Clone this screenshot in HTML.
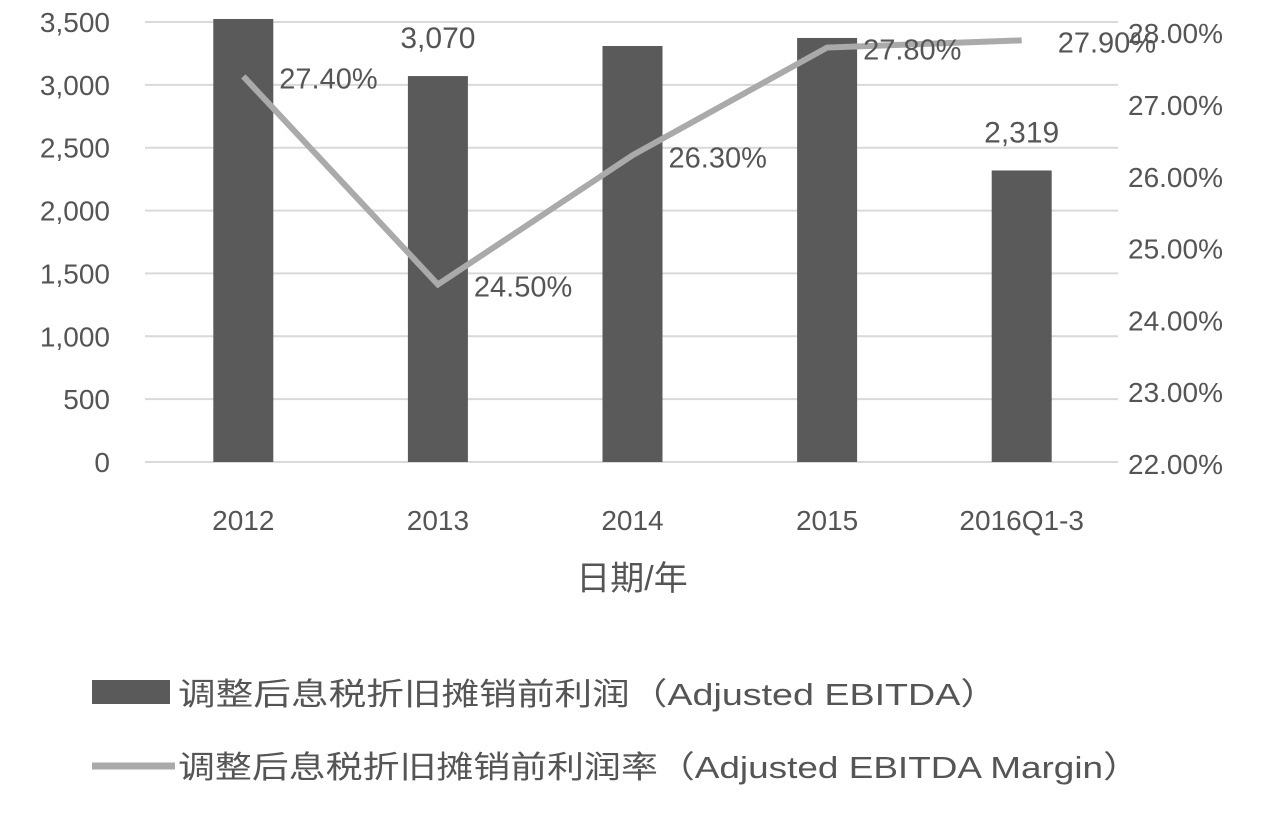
<!DOCTYPE html>
<html><head><meta charset="utf-8"><style>
html,body{margin:0;padding:0;background:#fff;}
svg text{font-family:"Liberation Sans","Noto Sans CJK SC",sans-serif;fill:#555;}
</style></head><body>
<svg id="chart" width="1288" height="823" xmlns="http://www.w3.org/2000/svg">
<g id="grid"></g><g id="bars"></g><g id="line"></g><g id="labels"></g><g id="axes"></g>
<g>
<g>
<rect x="92" y="680" width="78" height="24" fill="#5a5a5a"/>
<text x="178" y="705" font-size="31" textLength="820" lengthAdjust="spacingAndGlyphs">调整后息税折旧摊销前利润（Adjusted EBITDA）</text></g>
<g>
<line x1="92" y1="766" x2="175" y2="766" stroke="#aaa" stroke-width="7"/>
<text x="178" y="778" font-size="31" textLength="962" lengthAdjust="spacingAndGlyphs">调整后息税折旧摊销前利润率（Adjusted EBITDA Margin）</text></g>
</g>
<text x="632" y="590" font-size="34" text-anchor="middle">日期/年</text>
</svg>
<script>
const categories=["2012","2013","2014","2015","2016Q1-3"];
const ebitda=[3524,3070,3309,3373,2319];
const ebitdaLabels=["","3,070","","","2,319"];
const margin=[27.4,24.5,26.3,27.8,27.9];
const marginLabels=["27.40%","24.50%","26.30%","27.80%","27.90%"];
const leftTicks=[0,500,1000,1500,2000,2500,3000,3500];
const rightTicks=[22,23,24,25,26,27,28];
const NS="http://www.w3.org/2000/svg";
const x0=145,x1=1118,step=(x1-x0)/categories.length;
const xc=i=>x0+step*(i+0.5)+1;
const yL=v=>462-v*(440/3500);
const yR=v=>464-(v-22)*71.8;
function mk(tag,attrs,parent,txt){const e=document.createElementNS(NS,tag);for(const k in attrs)e.setAttribute(k,attrs[k]);if(txt!==undefined)e.textContent=txt;document.getElementById(parent).appendChild(e);return e;}
leftTicks.forEach(t=>{
 const g=mk('line',{x1:x0,x2:x1,y1:yL(t),y2:yL(t),stroke:'#d9d9d9','stroke-width':2},'grid');
 
 
 const l=mk('text',{x:110,y:yL(t)+10,'font-size':28,'text-anchor':'end'},'axes',t.toLocaleString('en-US'));
 
 
});
rightTicks.forEach(t=>{
 const l=mk('text',{x:1128,y:yR(t)+10,'font-size':28},'axes',t.toFixed(2)+'%');
 
 
});
categories.forEach((c,i)=>{
 const b=mk('rect',{x:xc(i)-30,y:yL(ebitda[i]),width:60,height:462-yL(ebitda[i]),fill:'#5a5a5a'},'bars');
 
 
 const l=mk('text',{x:xc(i),y:530,'font-size':28,'text-anchor':'middle'},'axes',c);
 
 
 if(ebitdaLabels[i]){
  const v=mk('text',{x:xc(i),y:yL(ebitda[i])-28,'font-size':30,'text-anchor':'middle'},'labels',ebitdaLabels[i]);
  
  
 }
});
const pts=margin.map((m,i)=>xc(i)+','+yR(m)).join(' ');
const pl=mk('polyline',{points:pts,fill:'none',stroke:'#aaa','stroke-width':6,'stroke-linejoin':'miter'},'line');


margin.forEach((m,i)=>{
 const t=mk('text',{x:xc(i)+36,y:yR(m)+12,'font-size':29},'labels',marginLabels[i]);
 
 
});
</script>
</body></html>
